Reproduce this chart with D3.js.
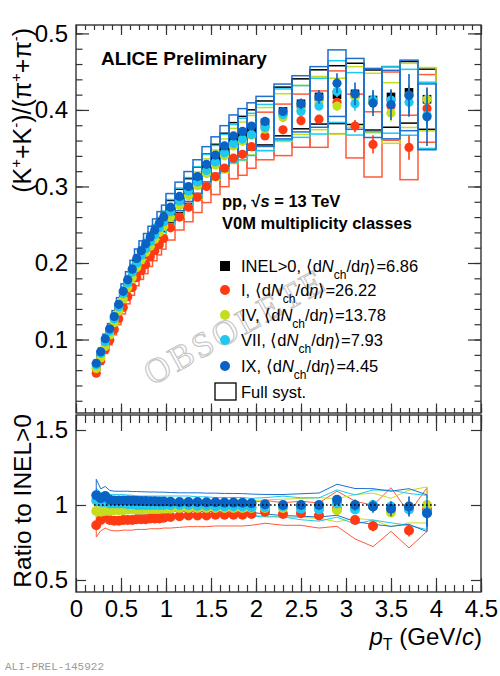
<!DOCTYPE html>
<html><head><meta charset="utf-8">
<script src="https://cdn.jsdelivr.net/npm/d3@7"></script>
<style>body{margin:0;background:#fff}</style>
</head><body>
<svg id="c" width="500" height="676" xmlns="http://www.w3.org/2000/svg"></svg>
<script>
// ---------------- DATA ----------------
const ptEdges = [0.20,0.25,0.30,0.35,0.40,0.45,0.50,0.55,0.60,0.65,0.70,0.75,0.80,0.85,0.90,0.95,1.00,1.10,1.20,1.30,1.40,1.50,1.60,1.70,1.80,1.90,2.00,2.20,2.40,2.60,2.80,3.00,3.20,3.40,3.60,3.80,4.00];

const classNames = ["INEL>0","I","IV","VII","IX"];
const dNdeta = ["6.86","26.22","13.78","7.93","4.45"];

// K/pi ratio per class
const kpiINEL = [0.065,0.080,0.095,0.110,0.126,0.142,0.158,0.173,0.187,0.200,0.210,0.219,0.228,0.237,0.246,0.254,0.267,0.281,0.294,0.307,0.323,0.335,0.347,0.360,0.366,0.374,0.383,0.398,0.408,0.417,0.420,0.421,0.413,0.417,0.423,0.414];
const kpiI    = [0.056,0.072,0.087,0.099,0.113,0.127,0.142,0.156,0.168,0.181,0.190,0.198,0.208,0.216,0.224,0.232,0.246,0.260,0.273,0.286,0.300,0.313,0.324,0.337,0.342,0.352,0.366,0.374,0.386,0.388,0.410,0.379,0.355,0.405,0.351,0.402];
const kpiIV   = [0.062,0.076,0.091,0.106,0.122,0.137,0.153,0.168,0.181,0.194,0.204,0.214,0.222,0.231,0.240,0.248,0.260,0.275,0.288,0.301,0.317,0.328,0.340,0.353,0.359,0.367,0.375,0.390,0.400,0.409,0.405,0.417,0.409,0.396,0.419,0.414];
const kpiVII  = [0.067,0.082,0.097,0.111,0.127,0.143,0.160,0.174,0.188,0.200,0.210,0.219,0.228,0.237,0.246,0.254,0.267,0.281,0.294,0.306,0.321,0.332,0.344,0.356,0.362,0.368,0.377,0.394,0.398,0.405,0.424,0.408,0.413,0.413,0.410,0.393];
const kpiIX   = [0.069,0.084,0.101,0.114,0.130,0.146,0.163,0.178,0.192,0.206,0.216,0.225,0.234,0.243,0.252,0.260,0.273,0.287,0.300,0.313,0.329,0.341,0.353,0.366,0.372,0.379,0.385,0.398,0.408,0.417,0.435,0.421,0.409,0.407,0.419,0.391];

// statistical errors (absolute)
const statINEL = [0,0,0,0,0,0,0,0,0,0,0,0,0,0,0,0,0,0,0,0,0,0,0,0,0,0,0.001,0.002,0.002,0.003,0.004,0.005,0.006,0.007,0.008,0.010];
const statI    = [0,0,0,0,0,0,0,0,0,0,0,0,0,0,0,0,0,0,0,0,0,0,0,0,0,0,0.002,0.003,0.004,0.005,0.006,0.008,0.012,0.014,0.016,0.018];
const statIV   = [0,0,0,0,0,0,0,0,0,0,0,0,0,0,0,0,0,0,0,0,0,0,0,0,0,0,0.002,0.003,0.004,0.005,0.006,0.008,0.009,0.011,0.013,0.016];
const statVII  = [0,0,0,0,0,0,0,0,0,0,0,0,0,0,0,0,0,0,0,0,0,0,0,0,0,0,0.002,0.003,0.004,0.005,0.007,0.009,0.010,0.012,0.015,0.020];
const statIX   = [0,0,0,0,0,0,0,0,0,0,0,0,0,0,0,0,0,0,0,0,0,0,0,0,0,0,0.003,0.005,0.007,0.009,0.013,0.015,0.017,0.020,0.028,0.038];

// full systematic uncertainty (percent)
const sysINEL = [5,5,5,5,5,5,5,5,5,5,5,5,5,5,5,5,5.5,5.5,5.5,6,6,6,6.5,6.5,7,7,7.5,8,8,8.5,9,9.5,9.5,9.5,9.5,9.5];
const sysI    = [6,6,6,6,6,6,6,6,6,6,6,6,6,6,6,6,6.5,6.5,7,7,7,7.5,7.5,8,8,8,8.5,9,9,9.5,10,11,12,11,12,11];
const sysIV   = [5,5,5,5,5,5,5,5,5,5,5,5,5,5,5,5,5.5,5.5,5.5,6,6,6,6.5,6.5,7,7,7.5,8,8,8.5,9,9.5,9.5,10,10,10];
const sysVII  = [5.5,5.5,5.5,5.5,5.5,5.5,5.5,5.5,5.5,5.5,5.5,5.5,5.5,5.5,5.5,5.5,6,6,6,6.5,6.5,6.5,7,7,7.5,7.5,8,8.5,8.5,9,9.5,10,10,10.5,10.5,11];
const sysIX   = [6,6,6,6,6,6,6,6,6,6,6,6,6,6,6,6,6.5,6.5,6.5,7,7,7,7.5,7.5,8,8,8.5,9,9,9.5,10,11,11,11,11,11];

// ratio to INEL>0
const ratioI   = [0.865,0.90,0.92,0.90,0.895,0.895,0.90,0.90,0.90,0.905,0.905,0.905,0.91,0.91,0.91,0.915,0.92,0.925,0.93,0.93,0.93,0.935,0.935,0.935,0.935,0.94,0.955,0.94,0.945,0.93,0.975,0.90,0.86,0.97,0.83,0.97];
const ratioIV  = [0.96,0.955,0.96,0.96,0.965,0.965,0.965,0.97,0.97,0.97,0.97,0.975,0.975,0.975,0.975,0.975,0.975,0.98,0.98,0.98,0.98,0.98,0.98,0.98,0.98,0.98,0.98,0.98,0.98,0.98,0.965,0.99,0.99,0.95,0.99,1.0];
const ratioVII = [1.03,1.02,1.02,1.01,1.01,1.01,1.01,1.005,1.005,1.0,1.0,1.0,1.0,1.0,1.0,1.0,1.0,1.0,1.0,0.995,0.995,0.99,0.99,0.99,0.99,0.985,0.985,0.99,0.975,0.97,1.01,0.97,1.0,0.99,0.97,0.95];
const ratioIX  = [1.065,1.045,1.06,1.035,1.03,1.03,1.03,1.03,1.028,1.028,1.027,1.026,1.025,1.025,1.024,1.024,1.022,1.02,1.02,1.02,1.018,1.018,1.016,1.016,1.015,1.012,1.005,1.0,1.0,1.0,1.035,1.0,0.99,0.975,0.99,0.945];

const ratioStatI   = [0,0,0,0,0,0,0,0,0,0,0,0,0,0,0,0,0,0,0,0,0,0,0,0,0,0,0.005,0.008,0.010,0.013,0.016,0.020,0.035,0.035,0.040,0.045];
const ratioStatIV  = [0,0,0,0,0,0,0,0,0,0,0,0,0,0,0,0,0,0,0,0,0,0,0,0,0,0,0.005,0.008,0.010,0.013,0.016,0.020,0.022,0.027,0.032,0.040];
const ratioStatVII = [0,0,0,0,0,0,0,0,0,0,0,0,0,0,0,0,0,0,0,0,0,0,0,0,0,0,0.005,0.008,0.010,0.013,0.018,0.022,0.025,0.030,0.036,0.050];
const ratioStatIX  = [0,0,0,0,0,0,0,0,0,0,0,0,0,0,0,0,0,0,0,0,0,0,0,0,0,0,0.008,0.012,0.017,0.022,0.030,0.036,0.042,0.050,0.066,0.090];

// ratio systematic (percent)
const ratioSysI   = [9,8,8,7.5,7.5,7.5,7.5,7.5,7.5,7.5,7.5,7.5,7.5,7.5,7.5,7.5,8,8,8,8,8,8,8,8,8,8,8,8,8.5,9,12,14,16,15,14,15];
const ratioSysIV  = [6,5,5,5,5,5,5,5,5,5,5,5,5,5,5,5,5,5,5,5,5,5,5,5,5,5,5.5,6,6.5,7,8,8,9,10,11,12];
const ratioSysVII = [8,6,6,6,6,6,6,6,6,6,6,6,6,6,6,6,6,6,6,6,6,6,6,6,6,6,6.5,7,7.5,8,9,10,10,11,11,12];
const ratioSysIX  = [10,6,6,6,6,6,6,6,6,6,6,6,6,6,6,6,6,6,6,6,6,6,6,6,6,6,6.5,7,7.5,8,10,11,12,12,12,13];

const xTickLabels = [0,0.5,1,1.5,2,2.5,3,3.5,4,4.5];
const yTopTickLabels = [0.1,0.2,0.3,0.4,0.5];
const yBotTickLabels = [0.5,1,1.5];

// ---------------- DRAWING ----------------
const colors = ["#000000","#ff3a12","#c5dd1c","#1ec8ef","#0a62c4"];
const boxColors = ["#000000","#ff5a3a","#c5dd1c","#1ec8ef","#1f6fd0"];
const kpi = [kpiINEL,kpiI,kpiIV,kpiVII,kpiIX];
const stat = [statINEL,statI,statIV,statVII,statIX];
const sys = [sysINEL,sysI,sysIV,sysVII,sysIX];
const ratio = [null,ratioI,ratioIV,ratioVII,ratioIX];
const rStat = [null,ratioStatI,ratioStatIV,ratioStatVII,ratioStatIX];
const rSys = [null,ratioSysI,ratioSysIV,ratioSysVII,ratioSysIX];

const FONT = '"Liberation Sans", Arial, Helvetica, sans-serif';
const svg = d3.select("#c");
const L = 76, R = 481, T1 = 25, B1 = 413, T2 = 415, B2 = 592;
const x = d3.scaleLinear().domain([0,4.5]).range([L,R]);
const yT = d3.scaleLinear().domain([0.004,0.511]).range([B1,T1]);
const yB = d3.scaleLinear().domain([0.42,1.6]).range([B2,T2]);

const bins = d3.range(ptEdges.length-1).map(i => ({i, lo:ptEdges[i], hi:ptEdges[i+1], c:(ptEdges[i]+ptEdges[i+1])/2}));

svg.append("rect").attr("width",500).attr("height",676).attr("fill","#fff");

// watermark
svg.append("text").attr("transform","translate(152,386) rotate(-29)")
  .attr("font-family",'"Liberation Serif","DejaVu Serif",serif').attr("font-size",35)
  .attr("letter-spacing",3)
  .attr("fill","none").attr("stroke","#c4c4c4").attr("stroke-width",1.1)
  .text("OBSOLETE");

// ---- top panel: systematic boxes
const gTop = svg.append("g");
for (let s=0;s<5;s++){
  gTop.append("g").selectAll("rect").data(bins).join("rect")
    .attr("x",d=>x(d.lo)).attr("width",d=>x(d.hi)-x(d.lo))
    .attr("y",d=>yT(kpi[s][d.i]*(1+sys[s][d.i]/100)))
    .attr("height",d=>yT(kpi[s][d.i]*(1-sys[s][d.i]/100))-yT(kpi[s][d.i]*(1+sys[s][d.i]/100)))
    .attr("fill","none").attr("stroke",boxColors[s]).attr("stroke-width",1.5);
}
// points + stat errors
for (let s=0;s<5;s++){
  const g = gTop.append("g");
  g.selectAll("line").data(bins.filter(d=>stat[s][d.i]>0)).join("line")
    .attr("x1",d=>x(d.c)).attr("x2",d=>x(d.c))
    .attr("y1",d=>yT(kpi[s][d.i]-stat[s][d.i])).attr("y2",d=>yT(kpi[s][d.i]+stat[s][d.i]))
    .attr("stroke",colors[s]).attr("stroke-width",1.6);
  if (s===0){
    g.selectAll("rect").data(bins).join("rect")
      .attr("x",d=>x(d.c)-4.3).attr("y",d=>yT(kpi[s][d.i])-4.3)
      .attr("width",8.6).attr("height",8.6).attr("fill",colors[s]);
  } else {
    g.selectAll("circle").data(bins).join("circle")
      .attr("cx",d=>x(d.c)).attr("cy",d=>yT(kpi[s][d.i])).attr("r",4.6)
      .attr("fill",colors[s]);
  }
}

// ---- bottom panel
const gBot = svg.append("g");
for (let s=1;s<5;s++){
  const up = bins.map(d=>[x(d.c), yB(ratio[s][d.i]*(1+rSys[s][d.i]/100))]);
  const dn = bins.map(d=>[x(d.c), yB(ratio[s][d.i]*(1-rSys[s][d.i]/100))]).reverse();
  gBot.append("path").attr("d", d3.line()(up.concat(dn))+"Z")
    .attr("fill","none").attr("stroke",boxColors[s]).attr("stroke-width",1);
}
for (let s=1;s<5;s++){
  const g = gBot.append("g");
  g.selectAll("line").data(bins.filter(d=>rStat[s][d.i]>0)).join("line")
    .attr("x1",d=>x(d.c)).attr("x2",d=>x(d.c))
    .attr("y1",d=>yB(ratio[s][d.i]-rStat[s][d.i])).attr("y2",d=>yB(ratio[s][d.i]+rStat[s][d.i]))
    .attr("stroke",colors[s]).attr("stroke-width",1.6);
  g.selectAll("circle").data(bins).join("circle")
    .attr("cx",d=>x(d.c)).attr("cy",d=>yB(ratio[s][d.i])).attr("r",5)
    .attr("fill",colors[s]);
}
gBot.append("line").attr("x1",x(0.2)).attr("x2",x(4.0)).attr("y1",yB(1)).attr("y2",yB(1))
  .attr("stroke","#000").attr("stroke-width",1.6).attr("stroke-dasharray","1.6,2.4");

// ---- frames & ticks
const AX = "#333";
function ticksAxis(axisFn, scale, vals, size, tx, ty){
  svg.append("g").attr("transform",`translate(${tx},${ty})`)
    .call(axisFn(scale).tickValues(vals).tickSize(size).tickFormat(""))
    .call(g=>{g.select(".domain").remove(); g.selectAll("line").attr("stroke",AX).attr("stroke-width",1.2);});
}
const xMajor = d3.range(0,4.51,0.5);
const xMinor = d3.range(0,4.501,0.1);
const yTMajor = d3.range(0.1,0.51,0.1);
const yTMinor = d3.range(0.02,0.511,0.02);
const yBMajor = [0.5,1.0,1.5];
// top panel
ticksAxis(d3.axisBottom,x,xMajor,10,0,T1); ticksAxis(d3.axisBottom,x,xMinor,5,0,T1);
ticksAxis(d3.axisTop,x,xMajor,9.5,0,B1); ticksAxis(d3.axisTop,x,xMinor,5,0,B1);
ticksAxis(d3.axisRight,yT,yTMajor,13,L,0); ticksAxis(d3.axisRight,yT,yTMinor,6.5,L,0);
ticksAxis(d3.axisLeft,yT,yTMajor,13,R,0); ticksAxis(d3.axisLeft,yT,yTMinor,6.5,R,0);
// bottom panel
ticksAxis(d3.axisBottom,x,xMajor,16,0,T2); ticksAxis(d3.axisBottom,x,xMinor,8,0,T2);
ticksAxis(d3.axisTop,x,xMajor,14,0,B2); ticksAxis(d3.axisTop,x,xMinor,7,0,B2);
ticksAxis(d3.axisRight,yB,yBMajor,10,L,0); ticksAxis(d3.axisLeft,yB,yBMajor,10,R,0);

svg.append("rect").attr("x",L).attr("y",T1).attr("width",R-L).attr("height",B1-T1)
  .attr("fill","none").attr("stroke",AX).attr("stroke-width",1.4);
svg.append("rect").attr("x",L).attr("y",T2).attr("width",R-L).attr("height",B2-T2)
  .attr("fill","none").attr("stroke",AX).attr("stroke-width",1.4);

// tick labels
function labelAxis(axisFn, scale, vals, fmt, tx, ty, pad){
  svg.append("g").attr("transform",`translate(${tx},${ty})`)
    .call(axisFn(scale).tickValues(vals).tickSize(0).tickPadding(pad).tickFormat(fmt))
    .call(g=>{g.select(".domain").remove();
      g.selectAll("text").attr("font-family",FONT).attr("font-size",24).attr("fill","#000");});
}
labelAxis(d3.axisLeft,yT,yTopTickLabels,d=>d.toFixed(1),L,0,8);
labelAxis(d3.axisLeft,yB,yBotTickLabels,d=>(d===1?"1":d.toFixed(1)),L,0,8);
labelAxis(d3.axisBottom,x,xTickLabels,d=>String(d),0,B2,8);

// axis titles
const yt = svg.append("text").attr("transform","translate(31,28) rotate(-90)")
  .attr("text-anchor","end").attr("font-family",FONT).attr("font-size",25);
yt.append("tspan").text("(K");
yt.append("tspan").attr("font-size",15).attr("dy",-10).text("+");
yt.append("tspan").attr("dy",10).text("+K");
yt.append("tspan").attr("font-size",15).attr("dy",-10).text("-");
yt.append("tspan").attr("dy",10).text(")/(π");
yt.append("tspan").attr("font-size",15).attr("dy",-10).text("+");
yt.append("tspan").attr("dy",10).text("+π");
yt.append("tspan").attr("font-size",15).attr("dy",-10).text("-");
yt.append("tspan").attr("dy",10).text(")");

svg.append("text").attr("transform","translate(31,414) rotate(-90)")
  .attr("text-anchor","end").attr("font-family",FONT).attr("font-size",24.5).text("Ratio to INEL>0");

const xt = svg.append("text").attr("x",482).attr("y",645).attr("text-anchor","end")
  .attr("font-family",FONT).attr("font-size",24);
xt.append("tspan").attr("font-style","italic").text("p");
xt.append("tspan").attr("font-size",16).attr("dy",5).text("T");
xt.append("tspan").attr("dy",-5).text(" (GeV/");
xt.append("tspan").attr("font-style","italic").text("c");
xt.append("tspan").text(")");

svg.append("text").attr("x",5).attr("y",670).attr("font-family",'"Liberation Mono","DejaVu Sans Mono",monospace')
  .attr("font-size",11).attr("fill","#9a9a9a").text("ALI-PREL-145922");

// header texts
svg.append("text").attr("x",101).attr("y",65).attr("font-family",FONT).attr("font-weight","bold")
  .attr("font-size",19).text("ALICE Preliminary");
const pp = svg.append("text").attr("x",222).attr("y",207).attr("font-family",FONT).attr("font-weight","bold").attr("font-size",16.5);
pp.append("tspan").text("pp, √");
pp.append("tspan").attr("font-style","italic").text("s");
pp.append("tspan").text(" = 13 TeV");
svg.append("text").attr("x",222).attr("y",229).attr("font-family",FONT).attr("font-weight","bold")
  .attr("font-size",16.5).text("V0M multiplicity classes");

// legend
const legY = [266,290,315,340,366];
for (let s=0;s<5;s++){
  if (s===0) svg.append("rect").attr("x",220).attr("y",legY[s]-5).attr("width",10).attr("height",10).attr("fill",colors[s]);
  else svg.append("circle").attr("cx",225).attr("cy",legY[s]).attr("r",5).attr("fill",colors[s]);
  const t = svg.append("text").attr("x",241).attr("y",legY[s]+5.5).attr("font-family",FONT).attr("font-size",16.5);
  t.append("tspan").text(classNames[s]+", ⟨d");
  t.append("tspan").attr("font-style","italic").text("N");
  t.append("tspan").attr("font-size",12).attr("dy",7).text("ch");
  t.append("tspan").attr("dy",-7).text("/d");
  t.append("tspan").attr("font-style","italic").text("η");
  t.append("tspan").text("⟩="+dNdeta[s]);
}
svg.append("rect").attr("x",215).attr("y",383).attr("width",21).attr("height",17)
  .attr("fill","none").attr("stroke","#000").attr("stroke-width",1.3);
svg.append("text").attr("x",241).attr("y",398).attr("font-family",FONT).attr("font-size",16.5).text("Full syst.");
</script>
</body></html>
